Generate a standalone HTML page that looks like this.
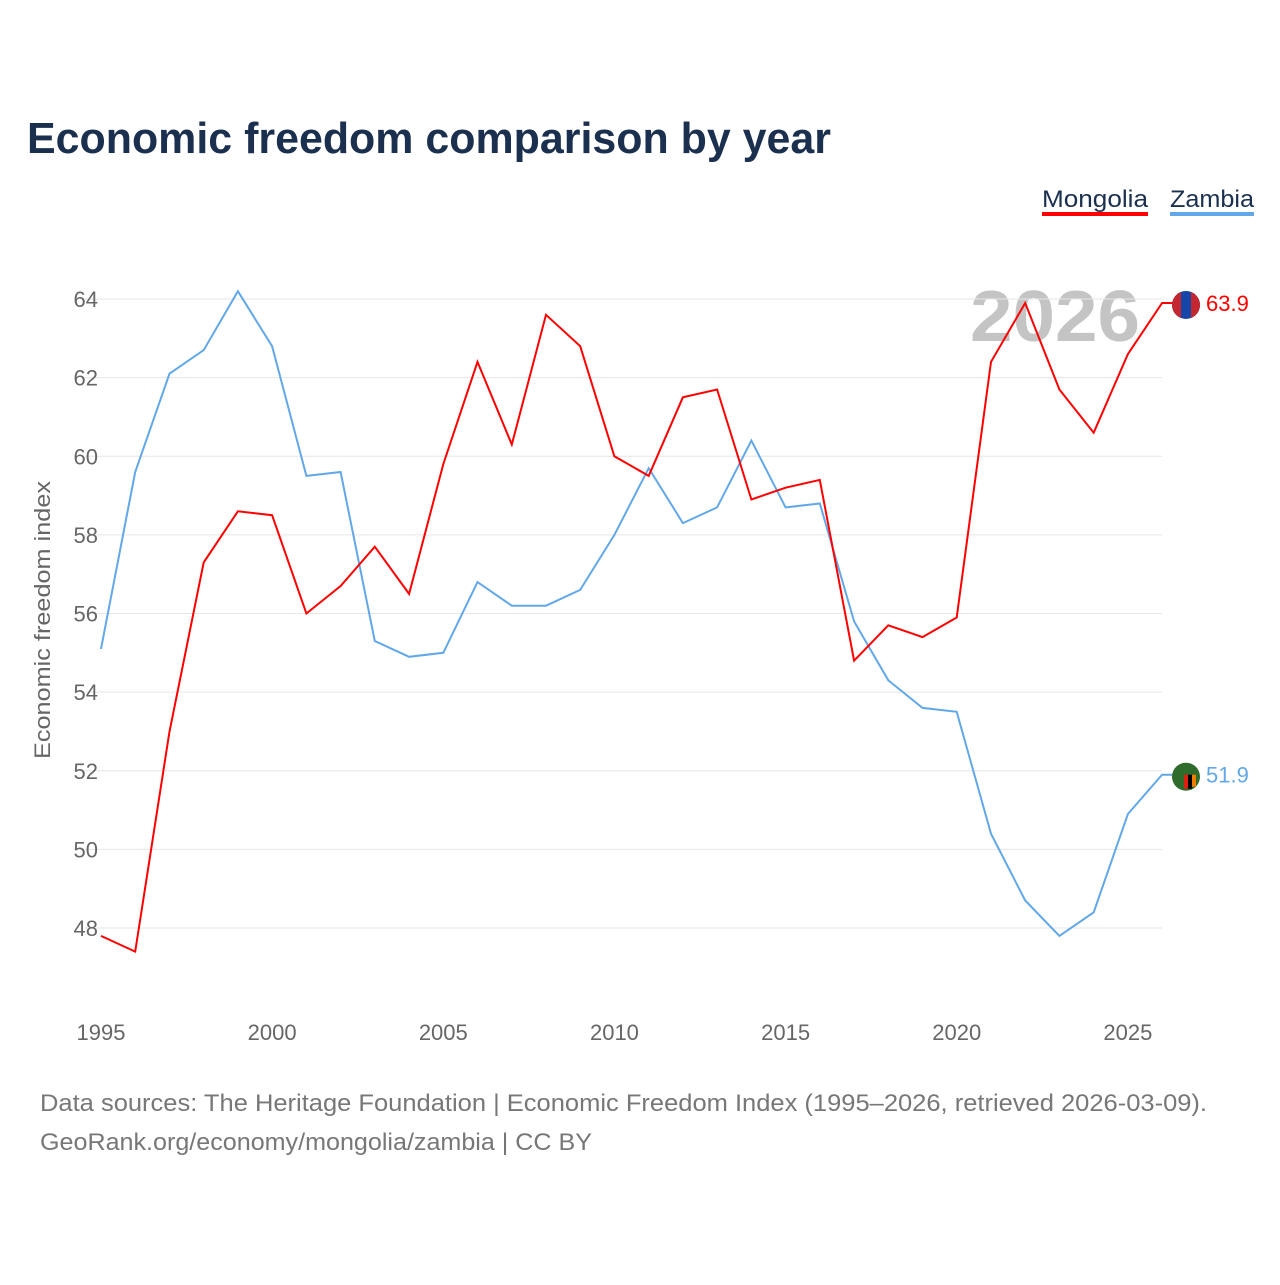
<!DOCTYPE html>
<html><head><meta charset="utf-8">
<style>
html,body{margin:0;padding:0;background:#fff;}
body{width:1280px;height:1280px;overflow:hidden;font-family:"Liberation Sans",sans-serif;}
</style></head>
<body>
<svg id="chart" width="1280" height="1280" xmlns="http://www.w3.org/2000/svg">
<text x="27" y="153" font-size="44" font-weight="bold" fill="#1b2f4f" textLength="804" lengthAdjust="spacingAndGlyphs">Economic freedom comparison by year</text>
<g>
<text x="1042" y="207" font-size="24" fill="#1b2f4f" textLength="106" lengthAdjust="spacingAndGlyphs">Mongolia</text>
<rect x="1042" y="212" width="106" height="4" fill="#ff0000"/>
<text x="1170" y="207" font-size="24" fill="#1b2f4f" textLength="84" lengthAdjust="spacingAndGlyphs">Zambia</text>
<rect x="1170" y="212" width="84" height="4" fill="#62a8e8"/>
</g>
<text x="1055" y="341" font-size="72" font-weight="bold" fill="#c4c4c4" text-anchor="middle" textLength="170" lengthAdjust="spacingAndGlyphs">2026</text>
<g id="grid"></g>
<g id="xticks"></g>
<text transform="translate(50,620) rotate(-90)" font-size="22" fill="#666" text-anchor="middle" textLength="278" lengthAdjust="spacingAndGlyphs">Economic freedom index</text>
<g id="series"></g>
<text x="40" y="1111" font-size="24" fill="#777" textLength="1167" lengthAdjust="spacingAndGlyphs">Data sources: The Heritage Foundation | Economic Freedom Index (1995–2026, retrieved 2026-03-09).</text>
<text x="40" y="1150" font-size="24" fill="#777" textLength="552" lengthAdjust="spacingAndGlyphs">GeoRank.org/economy/mongolia/zambia | CC BY</text>
</svg>
<script>
const years = [1995,1996,1997,1998,1999,2000,2001,2002,2003,2004,2005,2006,2007,2008,2009,2010,2011,2012,2013,2014,2015,2016,2017,2018,2019,2020,2021,2022,2023,2024,2025,2026];
const mongolia = [47.8,47.4,53.0,57.3,58.6,58.5,56.0,56.7,57.7,56.5,59.8,62.4,60.3,63.6,62.8,60.0,59.5,61.5,61.7,58.9,59.2,59.4,54.8,55.7,55.4,55.9,62.4,63.9,61.7,60.6,62.6,63.9];
const zambia = [55.1,59.6,62.1,62.7,64.2,62.8,59.5,59.6,55.3,54.9,55.0,56.8,56.2,56.2,56.6,58.0,59.7,58.3,58.7,60.4,58.7,58.8,55.8,54.3,53.6,53.5,50.4,48.7,47.8,48.4,50.9,51.9];
const yTicks = [48,50,52,54,56,58,60,62,64];
const xTicks = [1995,2000,2005,2010,2015,2020,2025];
const NS="http://www.w3.org/2000/svg";
function xs(v){return 101+(v-1995)*34.23;}
function ys(v){return 928-(v-48)*39.31;}
function mk(t,a,p){const e=document.createElementNS(NS,t);for(const k in a)e.setAttribute(k,a[k]);p.appendChild(e);return e;}
const grid=document.getElementById('grid');
yTicks.forEach(v=>{
 const l=mk('line',{x1:85,x2:1162,y1:ys(v),y2:ys(v),stroke:'#e6e6e6','stroke-width':1},grid);
 
 
 const t=mk('text',{x:98,y:ys(v)+8,'font-size':22,fill:'#666','text-anchor':'end'},grid);
 t.textContent=v;
 
 
});
const xt=document.getElementById('xticks');
xTicks.forEach(v=>{
 const t=mk('text',{x:xs(v),y:1040,'font-size':22,fill:'#666','text-anchor':'middle'},xt);
 t.textContent=v;
 
 
});
const sg=document.getElementById('series');
function drawSeries(vals,color,name){
 const last=vals[vals.length-1];
 const d=vals.map((v,i)=>(i?'L':'M')+xs(years[i]).toFixed(1)+','+ys(v).toFixed(1)).join('')+'L1174,'+ys(last).toFixed(1);
 const p=mk('path',{d:d,fill:'none',stroke:color,'stroke-width':2},sg);
 
 
 const cy=ys(last)+2;
 const c=mk('circle',{cx:1186,cy:cy,r:14,fill:name==='mongolia'?'#1646a8':'#2f6b2a'},sg);
 
 
 if(name==='mongolia'){
  mk('path',{d:`M1172,${cy} a14,14 0 0,1 9,-13 v26 a14,14 0 0,1 -9,-13z`,fill:'#c4272f'},sg);
  mk('path',{d:`M1200,${cy} a14,14 0 0,0 -9,-13 v26 a14,14 0 0,0 9,-13z`,fill:'#c4272f'},sg);
 } else {
  mk('rect',{x:1184,y:cy-2,width:4,height:14,fill:'#de2010'},sg);
  mk('rect',{x:1188,y:cy-2,width:4,height:14,fill:'#000'},sg);
  mk('rect',{x:1192,y:cy-2,width:4,height:12,fill:'#ef7d00'},sg);
 }
 const t=mk('text',{x:1206,y:ys(last)+8,'font-size':22,fill:color},sg);
 t.textContent=last.toFixed(1);
 
 
}
drawSeries(zambia,'#62a8e8','zambia');
drawSeries(mongolia,'#ff0000','mongolia');
</script>
</body></html>
